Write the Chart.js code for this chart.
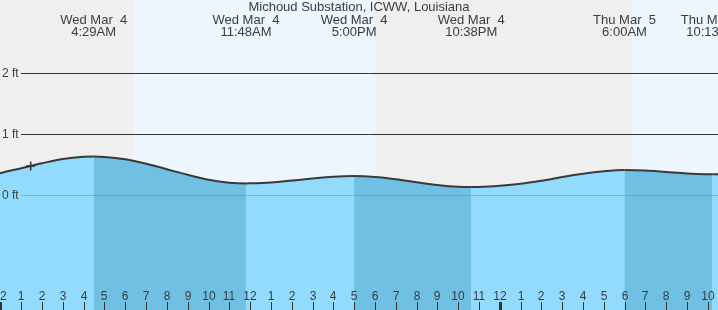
<!DOCTYPE html>
<html>
<head>
<meta charset="utf-8">
<script src="https://cdn.jsdelivr.net/npm/chart.js@4"></script>
<style>
  body { margin: 0; background: #fff; }
  canvas { display: block; }
</style>
</head>
<body>
<canvas id="tideChart" width="718" height="310"></canvas>
<script>
// hours after Wed Mar 4 midnight, tide height in ft
const hours = [-0.05, 0, 1, 2, 3, 4, 4.48, 5, 6, 7, 8, 9, 10, 11, 11.8, 12, 13, 14, 15, 16, 17,
    18, 19, 20, 21, 22, 22.63, 23, 24, 25, 26, 27, 28, 29, 30, 31, 32, 33, 34, 34.22, 34.6];
const heights = [0.355, 0.36, 0.44, 0.52, 0.59, 0.626, 0.63, 0.625, 0.585, 0.513, 0.423, 0.331, 0.252, 0.203, 0.19, 0.191, 0.205, 0.236, 0.271, 0.299, 0.31,
    0.296, 0.26, 0.211, 0.165, 0.135, 0.13, 0.132, 0.153, 0.185, 0.235, 0.295, 0.35, 0.39, 0.41, 0.401, 0.378, 0.354, 0.341, 0.34, 0.343];

const nowHour = [1.45];
const nowHeight = [0.475];

const tideTimes = [4.48, 11.8, 17.0, 22.63, 30.0, 34.22];
const tideDays = ["Wed Mar  4", "Wed Mar  4", "Wed Mar  4", "Wed Mar  4", "Thu Mar  5", "Thu Mar  5"];
const tideClock = ["4:29AM", "11:48AM", "5:00PM", "10:38PM", "6:00AM", "10:13AM"];

const nightBands = [[-1, 6.38], [18.02, 30.36]];

const levelTicks = [0, 1, 2];
const levelLabels = ["0 ft", "1 ft", "2 ft"];

const hourTicks = [0, 1, 2, 3, 4, 5, 6, 7, 8, 9, 10, 11, 12, 13, 14, 15, 16, 17, 18, 19, 20, 21, 22, 23,
    24, 25, 26, 27, 28, 29, 30, 31, 32, 33, 34];
const hourLabels = ["12", "1", "2", "3", "4", "5", "6", "7", "8", "9", "10", "11", "12", "1", "2", "3", "4", "5", "6", "7", "8", "9", "10", "11",
    "12", "1", "2", "3", "4", "5", "6", "7", "8", "9", "10"];

const title = "Michoud Substation, ICWW, Louisiana";

const FONT = "'Liberation Sans', Arial, sans-serif";
const TEXT = "#3c3c3c";
const DAY = "#edf6fe";
const NIGHT = "#efefef";
const WATER = "#93dbfd";
const WATER_DARK = "#70c0e4";

const tideDrawing = {
    id: "tideDrawing",
    beforeDatasetsDraw(chart) {
        const { ctx, chartArea: a, scales: { x } } = chart;
        ctx.save();
        ctx.fillStyle = DAY;
        ctx.fillRect(a.left, a.top, a.right - a.left, a.bottom - a.top);
        ctx.fillStyle = NIGHT;
        nightBands.forEach(([s, e]) => {
            const x0 = Math.max(a.left, x.getPixelForValue(s));
            const x1 = Math.min(a.right, x.getPixelForValue(e));
            ctx.fillRect(x0, a.top, x1 - x0, a.bottom - a.top);
        });

        ctx.fillStyle = TEXT;
        ctx.textAlign = "center";
        ctx.textBaseline = "alphabetic";
        ctx.font = "13px " + FONT;
        ctx.fillText(title, (a.left + a.right) / 2, 11);
        tideTimes.forEach((t, i) => {
            const px = x.getPixelForValue(t);
            ctx.fillText(tideDays[i], px, 24);
            ctx.fillText(tideClock[i], px, 36);
        });
        ctx.restore();
    },
    afterDatasetsDraw(chart) {
        const { ctx, chartArea: a, scales: { x, y } } = chart;
        ctx.save();
        ctx.font = "12px " + FONT;
        ctx.textBaseline = "middle";
        ctx.textAlign = "left";
        levelTicks.forEach((v, i) => {
            const py = Math.round(y.getPixelForValue(v)) + 0.5;
            ctx.strokeStyle = v === 0 ? "rgba(70,140,190,0.45)" : "#333";
            ctx.lineWidth = 1;
            ctx.beginPath();
            ctx.moveTo(21, py);
            ctx.lineTo(a.right, py);
            ctx.stroke();
            ctx.fillStyle = TEXT;
            ctx.fillText(levelLabels[i], 2, py);
        });

        ctx.textAlign = "center";
        ctx.textBaseline = "alphabetic";
        hourTicks.forEach((h, i) => {
            const px = Math.round(x.getPixelForValue(h));
            ctx.fillStyle = TEXT;
            ctx.fillText(hourLabels[i], px, 300);
            ctx.fillStyle = "#333";
            const w = h % 24 === 0 ? 3 : 1;
            ctx.fillRect(px - Math.floor(w / 2), 302, w, 8);
        });
        ctx.restore();
    }
};

const tidePoints = hours.map((h, i) => ({ x: h, y: heights[i] }));

const ctx = document.getElementById("tideChart").getContext("2d");

new Chart(ctx, {
    type: "line",
    data: {
        datasets: [{
            // plain water underneath so the band seams do not show
            data: tidePoints,
            borderWidth: 0,
            pointRadius: 0,
            cubicInterpolationMode: "monotone",
            fill: "start",
            backgroundColor: WATER,
            order: 3
        }, {
            data: tidePoints,
            borderColor: "#3a3a3a",
            borderWidth: 2,
            pointRadius: 0,
            cubicInterpolationMode: "monotone",
            fill: "start",
            backgroundColor: WATER,
            segment: {
                backgroundColor: c => c.p1.parsed.y < c.p0.parsed.y ? WATER_DARK : WATER
            },
            order: 2
        }, {
            data: nowHour.map((h, i) => ({ x: h, y: nowHeight[i] })),
            showLine: false,
            pointStyle: "cross",
            pointRadius: 4.5,
            borderColor: "#333",
            borderWidth: 1.5,
            fill: false,
            order: 1
        }]
    },
    options: {
        responsive: false,
        devicePixelRatio: 1,
        animation: false,
        layout: { padding: 0, autoPadding: false },
        plugins: { legend: { display: false }, tooltip: { enabled: false } },
        scales: {
            x: { type: "linear", min: -0.024, max: 34.495, display: false },
            y: { min: -1.885, max: 3.197, display: false }
        }
    },
    plugins: [tideDrawing]
});
</script>
</body>
</html>
